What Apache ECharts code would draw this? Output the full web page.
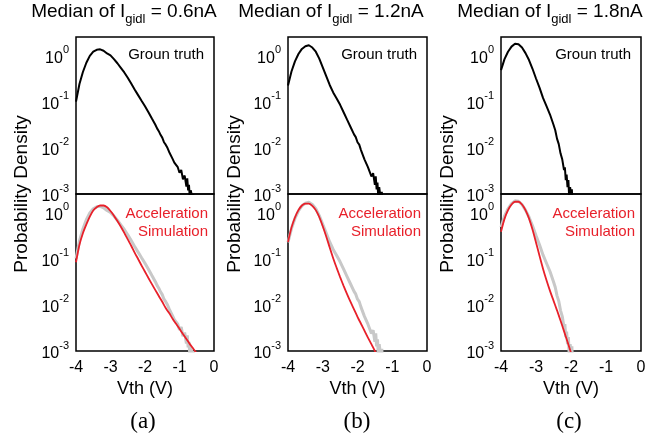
<!DOCTYPE html>
<html>
<head>
<meta charset="utf-8">
<script src="https://cdn.jsdelivr.net/npm/echarts@6/dist/echarts.min.js"></script>
<style>
html,body{margin:0;padding:0;background:#fff;}
#main{width:654px;height:439px;}
</style>
</head>
<body>
<div id="main"></div>
<script>
// ---- data (Vth in V, probability density) ----
const titles = ['0.6nA', '1.2nA', '1.8nA'];
const panelTags = ['(a)', '(b)', '(c)'];
const xTicks = [-4, -3, -2, -1, 0];
const yDecades = [-3, -2, -1, 0];

const gtA = [[-4.0,0.100],[-3.9,0.240],[-3.8,0.437],[-3.7,0.692],[-3.6,0.977],[-3.5,1.20],[-3.4,1.32],[-3.3,1.35],[-3.2,1.26],[-3.1,1.10],[-3.0,1.00],[-2.9,0.832],[-2.8,0.676],[-2.7,0.537],[-2.6,0.427],[-2.5,0.328],[-2.4,0.245],[-2.3,0.183],[-2.2,0.138],[-2.1,0.104],[-2.0,0.0790],[-1.9,0.0590],[-1.8,0.0430],[-1.7,0.0316],[-1.65,0.0263],[-1.6,0.0229],[-1.55,0.0191],[-1.5,0.0166],[-1.45,0.0132],[-1.4,0.0117],[-1.35,0.0100],[-1.3,0.00813],[-1.25,0.00741],[-1.2,0.00575],[-1.15,0.00479],[-1.1,0.00457],[-1.05,0.00380],[-1.0,0.00288],[-0.95,0.00331],[-0.9,0.00209],[-0.85,0.00251],[-0.8,0.00145],[-0.775,0.00219],[-0.75,0.00120],[-0.725,0.00158],[-0.7,0.00079],[-0.675,0.00120],[-0.65,0.00100],[-0.625,0.00050],[-0.6,0.00100],[-0.575,0.00040]];
const simA = [[-4.0,0.0832],[-3.9,0.200],[-3.8,0.355],[-3.7,0.550],[-3.6,0.813],[-3.5,1.10],[-3.4,1.29],[-3.3,1.41],[-3.2,1.41],[-3.1,1.29],[-3.0,1.07],[-2.9,0.850],[-2.8,0.650],[-2.7,0.490],[-2.6,0.360],[-2.5,0.260],[-2.4,0.190],[-2.3,0.135],[-2.2,0.0980],[-2.1,0.0710],[-2.0,0.0520],[-1.9,0.0380],[-1.8,0.0280],[-1.7,0.0208],[-1.6,0.0155],[-1.5,0.0116],[-1.4,0.00851],[-1.3,0.00661],[-1.2,0.00501],[-1.1,0.00389],[-1.0,0.00302],[-0.9,0.00234],[-0.8,0.00182],[-0.7,0.00141],[-0.6,0.00112],[-0.5,0.00089]];

const gtB = [[-4.0,0.224],[-3.9,0.447],[-3.8,0.741],[-3.7,1.07],[-3.6,1.38],[-3.5,1.58],[-3.4,1.66],[-3.3,1.48],[-3.2,1.20],[-3.1,0.851],[-3.0,0.550],[-2.9,0.355],[-2.8,0.229],[-2.7,0.158],[-2.6,0.117],[-2.5,0.0851],[-2.4,0.0589],[-2.3,0.0407],[-2.2,0.0282],[-2.1,0.0195],[-2.05,0.0170],[-2.0,0.0132],[-1.95,0.0117],[-1.9,0.00891],[-1.85,0.00832],[-1.8,0.00562],[-1.75,0.00537],[-1.7,0.00380],[-1.65,0.00417],[-1.6,0.00240],[-1.55,0.00282],[-1.5,0.00158],[-1.475,0.00240],[-1.45,0.00126],[-1.425,0.00178],[-1.4,0.00079],[-1.375,0.00141],[-1.35,0.00100],[-1.325,0.00050],[-1.3,0.00112],[-1.275,0.00040]];
const simB = [[-4.0,0.229],[-3.9,0.468],[-3.8,0.776],[-3.7,1.12],[-3.6,1.41],[-3.5,1.55],[-3.4,1.55],[-3.3,1.38],[-3.2,1.12],[-3.1,0.794],[-3.0,0.501],[-2.9,0.302],[-2.8,0.174],[-2.7,0.102],[-2.6,0.0631],[-2.5,0.0398],[-2.4,0.0257],[-2.3,0.0170],[-2.2,0.0115],[-2.1,0.00794],[-2.0,0.00550],[-1.9,0.00389],[-1.8,0.00275],[-1.7,0.00195],[-1.6,0.00141],[-1.5,0.00100],[-1.4,0.00072]];

const gtC = [[-4.0,0.479],[-3.9,0.832],[-3.8,1.20],[-3.7,1.55],[-3.6,1.78],[-3.5,1.74],[-3.4,1.48],[-3.3,1.12],[-3.2,0.794],[-3.1,0.513],[-3.0,0.316],[-2.9,0.200],[-2.8,0.120],[-2.7,0.0794],[-2.6,0.0525],[-2.5,0.0316],[-2.45,0.0240],[-2.4,0.0158],[-2.35,0.0120],[-2.3,0.00759],[-2.25,0.00562],[-2.2,0.00331],[-2.175,0.00380],[-2.15,0.00200],[-2.125,0.00263],[-2.1,0.00141],[-2.075,0.00200],[-2.05,0.00079],[-2.025,0.00141],[-2.0,0.00100],[-1.975,0.00126],[-1.95,0.00040]];
const simC = [[-4.0,0.380],[-3.9,0.724],[-3.8,1.12],[-3.7,1.48],[-3.6,1.70],[-3.5,1.70],[-3.4,1.48],[-3.3,1.12],[-3.2,0.741],[-3.1,0.427],[-3.0,0.224],[-2.9,0.115],[-2.8,0.0603],[-2.7,0.0339],[-2.6,0.0200],[-2.5,0.0123],[-2.4,0.00759],[-2.3,0.00457],[-2.2,0.00269],[-2.1,0.00158],[-2.0,0.00091],[-1.9,0.00050]];

const gtSets = [gtA, gtB, gtC];
const simSets = [simA, simB, simC];

// ---- layout ----
const FONT = "'Liberation Sans', Arial, Helvetica, sans-serif";
const SERIF = "'Liberation Serif', 'Times New Roman', serif";
const panels = [
  {left: 76, width: 138, titleX: 124, ylabX: 22, tagX: 143},
  {left: 288, width: 139, titleX: 331, ylabX: 235, tagX: 357},
  {left: 501, width: 140, titleX: 550, ylabX: 448, tagX: 569}
];
const TOP1 = 37, H = 157, TOP2 = 194;

const grids = [], xAxes = [], yAxes = [], series = [], graphics = [];

function yLabel(v) {
  const e = Math.round(Math.log10(v));
  if (Math.abs(Math.log10(v) - e) > 1e-6 || yDecades.indexOf(e) < 0) return '';
  return '{b|10}{s|' + e + '}';
}

panels.forEach((p, i) => {
  [TOP1, TOP2].forEach((top, k) => {
    const gi = grids.length;
    grids.push({left: p.left, top: top, width: p.width, height: H, show: true,
      borderColor: '#000', borderWidth: 1.5, backgroundColor: 'transparent'});
    xAxes.push({type: 'value', gridIndex: gi, min: xTicks[0], max: xTicks[xTicks.length - 1], interval: 1,
      axisLine: {show: false}, axisTick: {show: false}, splitLine: {show: false},
      axisLabel: {show: k === 1, fontSize: 16, color: '#000', fontFamily: FONT, margin: 9},
      name: k === 1 ? 'Vth (V)' : '', nameLocation: 'middle', nameGap: 29,
      nameTextStyle: {fontSize: 18, color: '#000', fontFamily: FONT}});
    yAxes.push({type: 'log', logBase: 10, gridIndex: gi, min: 0.001, max: 2.5,
      axisLine: {show: false}, axisTick: {show: false}, splitLine: {show: false}, minorTick: {show: false},
      axisLabel: {show: true, showMaxLabel: false, margin: 7, formatter: yLabel,
        rich: {
          b: {fontSize: 16, color: '#000', fontFamily: FONT, lineHeight: 22, verticalAlign: 'bottom'},
          s: {fontSize: 11, color: '#000', fontFamily: FONT, lineHeight: 11, verticalAlign: 'top'}
        }}});
    if (k === 0) {
      series.push({type: 'line', xAxisIndex: gi, yAxisIndex: gi, data: gtSets[i], symbol: 'none',
        lineStyle: {color: '#000', width: 2}, z: 3, clip: true});
    } else {
      series.push({type: 'line', xAxisIndex: gi, yAxisIndex: gi, data: gtSets[i], symbol: 'none',
        lineStyle: {color: '#c8c8c8', width: 3}, z: 2, clip: true});
      series.push({type: 'line', xAxisIndex: gi, yAxisIndex: gi, data: simSets[i], symbol: 'none', smooth: 0.3,
        lineStyle: {color: '#e8202a', width: 1.8}, z: 3, clip: true});
    }
  });
  const right = p.left + p.width;
  graphics.push({type: 'text', x: p.titleX, y: 14, style: {
    text: '{t|Median of I}{s|gidl}{t| = ' + titles[i] + '}', align: 'center', verticalAlign: 'middle',
    rich: {t: {fontSize: 19, fontFamily: FONT, fill: '#000', lineHeight: 24, verticalAlign: 'top'},
           s: {fontSize: 13, fontFamily: FONT, fill: '#000', lineHeight: 13, verticalAlign: 'bottom'}}}});
  graphics.push({type: 'text', x: right - 10, y: 55, style: {text: 'Groun truth', align: 'right', verticalAlign: 'middle',
    fontSize: 15, fontFamily: FONT, fill: '#000'}});
  graphics.push({type: 'text', x: right - 6, y: 214, style: {text: 'Acceleration', align: 'right', verticalAlign: 'middle',
    fontSize: 15, fontFamily: FONT, fill: '#e8202a'}});
  graphics.push({type: 'text', x: right - 6, y: 232, style: {text: 'Simulation', align: 'right', verticalAlign: 'middle',
    fontSize: 15, fontFamily: FONT, fill: '#e8202a'}});
  graphics.push({type: 'text', x: p.ylabX, y: 194, rotation: Math.PI / 2, style: {text: 'Probability Density',
    align: 'center', verticalAlign: 'middle', fontSize: 19, fontFamily: FONT, fill: '#000'}});
  graphics.push({type: 'text', x: p.tagX, y: 422, style: {text: panelTags[i], align: 'center', verticalAlign: 'middle',
    fontSize: 23, fontFamily: SERIF, fill: '#000'}});
});

const chart = echarts.init(document.getElementById('main'), null, {renderer: 'canvas'});
chart.setOption({
  animation: false,
  backgroundColor: '#fff',
  grid: grids, xAxis: xAxes, yAxis: yAxes, series: series,
  graphic: {elements: graphics}
});
</script>
</body>
</html>
